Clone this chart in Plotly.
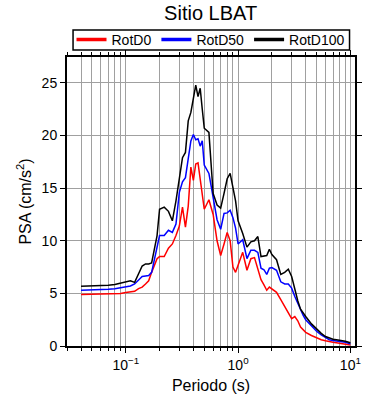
import plotly.graph_objects as go

periods = [0.04, 0.05, 0.06, 0.07, 0.08, 0.09, 0.1, 0.11, 0.12, 0.13, 0.14, 0.15, 0.16, 0.17, 0.18, 0.19,
           0.2, 0.22, 0.24, 0.26, 0.28, 0.30, 0.32, 0.34, 0.36, 0.38, 0.40, 0.42, 0.44, 0.46, 0.48, 0.50,
           0.55, 0.60, 0.65, 0.70, 0.75, 0.80, 0.85, 0.90, 0.95, 1.0, 1.1, 1.2, 1.3, 1.4, 1.5, 1.6, 1.7,
           1.8, 1.9, 2.0, 2.2, 2.4, 2.6, 2.8, 3.0, 3.2, 3.4, 3.6, 3.8, 4.0, 4.5, 5.0, 5.5, 6.0, 6.5, 7.0,
           7.5, 8.0, 8.5, 9.0, 10.0]

rotd100 = [5.67, 5.7, 5.72, 5.78, 5.85, 6.0, 6.1, 6.2, 6.05, 6.8, 7.6, 7.8, 7.8, 7.9, 9.4, 10.5,
           13.0, 13.2, 12.8, 11.9, 13.8, 15.9, 17.9, 18.4, 21.4, 22.2, 23.5, 24.8, 23.7, 24.5, 22.5, 20.7,
           20.3, 14.5, 13.4, 13.1, 14.5, 15.9, 16.4, 15.0, 13.8, 11.9, 10.7, 9.4, 9.9, 10.0, 10.4, 8.5, 8.55,
           8.6, 9.2, 8.7, 8.2, 6.8, 7.0, 7.3, 6.6, 5.3, 4.3, 3.5, 3.1, 2.8, 2.1, 1.6, 1.2, 0.9, 0.75, 0.65,
           0.6, 0.58, 0.5, 0.45, 0.3]

rotd50 = [5.3, 5.32, 5.35, 5.4, 5.45, 5.55, 5.62, 5.7, 5.9, 6.3, 6.6, 6.65, 6.7, 7.0, 8.2, 9.2,
          10.5, 10.5, 11.0, 10.8, 11.6, 14.6, 15.6, 16.0, 18.0, 19.5, 20.1, 19.6, 19.7, 19.0, 19.5, 17.2,
          16.4, 14.3, 12.0, 11.1, 12.6, 12.65, 12.9, 12.2, 11.2, 9.7, 10.1, 8.3, 9.1, 9.1, 8.9, 7.4, 7.25,
          6.8, 7.4, 7.45, 7.2, 6.1, 5.9, 5.9, 5.5, 4.7, 4.0, 3.4, 2.9, 2.5, 1.9, 1.4, 1.05, 0.8, 0.6, 0.52,
          0.48, 0.45, 0.4, 0.35, 0.2]

rotd0 = [4.9, 4.92, 4.94, 4.96, 4.98, 5.0, 5.08, 5.15, 5.2, 5.45, 5.6, 5.9, 6.2, 7.0, 7.6, 8.3,
         8.5, 8.5, 9.3, 9.7, 10.5, 11.4, 13.2, 11.3, 13.3, 17.0, 15.75, 17.3, 17.4, 15.8, 14.5, 13.0,
         13.9, 12.5, 10.0, 8.6, 9.7, 10.8, 10.0, 7.5, 7.0, 7.6, 8.9, 7.2, 8.3, 8.4, 7.4, 6.3, 5.8,
         5.3, 5.6, 5.4, 5.1, 4.4, 3.7, 3.1, 2.6, 2.8, 2.4, 1.8, 1.5, 1.3, 1.0, 0.75, 0.6, 0.5, 0.4, 0.35,
         0.3, 0.25, 0.22, 0.2, 0.1]

series_names = ["RotD0", "RotD50", "RotD100"]
series_colors = ["#ff0000", "#0000ff", "#000000"]

x_major_vals = [0.1, 1, 10]
x_major_text = ["10<sup>−1</sup>", "10<sup>0</sup>", "10<sup>1</sup>"]
x_minor_vals = [m * d for d in (0.01, 0.1, 1) for m in range(2, 10)] + [0.1, 1, 10]
y_ticks = [0, 5, 10, 15, 20, 25]

FONT = "Liberation Sans, Arial, Helvetica, sans-serif"

fig = go.Figure()
for name, col, vals in zip(series_names, series_colors, [rotd0, rotd50, rotd100]):
    fig.add_trace(go.Scatter(x=periods, y=vals, mode="lines", name=name, showlegend=False,
                             line=dict(color=col, width=1.5)))
# legend entries with thicker sample lines
for name, col in zip(series_names, series_colors):
    fig.add_trace(go.Scatter(x=[None], y=[None], mode="lines", name=name,
                             line=dict(color=col, width=3.5)))

# legend frame drawn as a box above the plot
fig.add_shape(type="rect", xref="paper", yref="paper",
              x0=0.021, x1=0.981, y0=1.0242, y1=1.0934,
              line=dict(color="black", width=1.5), fillcolor="white", layer="below")

fig.update_layout(
    width=390, height=400,
    margin=dict(l=67, r=35, t=57, b=54, autoexpand=False),
    paper_bgcolor="white", plot_bgcolor="white",
    font=dict(family=FONT, color="black", size=14),
    title=dict(text="Sitio LBAT", x=0.54, xanchor="center", y=0.967, yanchor="middle",
               font=dict(size=20, family=FONT, color="black")),
    legend=dict(orientation="h", x=0.5, xanchor="center", y=1.0588, yanchor="middle",
                borderwidth=0, bgcolor="rgba(0,0,0,0)",
                font=dict(size=14, family=FONT), itemwidth=30,
                tracegroupgap=0),
    showlegend=True,
)

fig.update_xaxes(
    type="log", range=[-1.523, 1.041], automargin=False,
    tickmode="array", tickvals=x_major_vals, ticktext=x_major_text,
    ticks="outside", ticklen=5, tickwidth=1, tickcolor="black",
    showline=True, linecolor="black", linewidth=2, mirror="ticks",
    showgrid=True, gridcolor="#a0a0a0", gridwidth=1,
    minor=dict(tickmode="array", tickvals=x_minor_vals, ticks="outside", ticklen=3,
               tickcolor="black", showgrid=True, gridcolor="#a0a0a0", gridwidth=1),
    title=dict(text="Periodo (s)", font=dict(size=16, family=FONT), standoff=8),
    tickfont=dict(size=14, family=FONT),
    zeroline=False,
)
fig.update_yaxes(
    range=[0, 27.47], automargin=False,
    tickmode="array", tickvals=y_ticks,
    ticks="outside", ticklen=5, tickwidth=1, tickcolor="black",
    showline=True, linecolor="black", linewidth=2, mirror="ticks",
    showgrid=True, gridcolor="#a0a0a0", gridwidth=1,
    title=dict(text="PSA (cm/s<sup>2</sup>)", font=dict(size=16, family=FONT), standoff=6),
    tickfont=dict(size=14, family=FONT),
    zeroline=False,
)

fig.write_html("out.html", config={"displayModeBar": False},
               post_script="document.body.style.margin='0';")
